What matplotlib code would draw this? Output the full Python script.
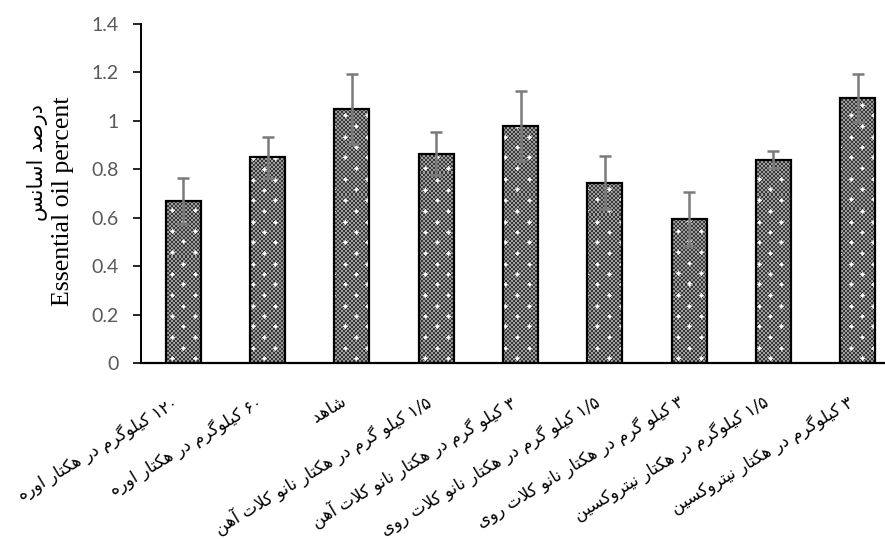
import numpy as np
import matplotlib
matplotlib.use("Agg")
import matplotlib.pyplot as plt
from matplotlib.transforms import ScaledTranslation

# ---------------- data ----------------
categories = [
    "۱۲۰ کیلوگرم در هکتار اوره",
    "۶۰ کیلوگرم در هکتار اوره",
    "شاهد",
    "۱/۵ کیلو گرم در هکتار نانو کلات آهن",
    "۳ کیلو گرم در هکتار نانو کلات آهن",
    "۱/۵ کیلو گرم در هکتار نانو کلات روی",
    "۳ کیلو گرم در هکتار نانو کلات روی",
    "۱/۵ کیلوگرم در هکتار نیتروکسین",
    "۳ کیلوگرم در هکتار نیتروکسین",
]
values = [0.67, 0.85, 1.05, 0.865, 0.98, 0.745, 0.595, 0.84, 1.095]
errors = [0.095, 0.085, 0.145, 0.09, 0.145, 0.11, 0.11, 0.035, 0.10]
yticks = [0, 0.2, 0.4, 0.6, 0.8, 1.0, 1.2, 1.4]
ytick_labels = ["0", "0.2", "0.4", "0.6", "0.8", "1", "1.2", "1.4"]
ylabel_en = "Essential oil percent"
ylabel_fa = "درصد اسانس"

# ---------------- simple Persian shaping ----------------
FORMS = {  # isolated, final, initial, medial
    'ا': ('\uFE8D', '\uFE8E', None, None),
    'آ': ('\uFE81', '\uFE82', None, None),
    'ت': ('\uFE95', '\uFE96', '\uFE97', '\uFE98'),
    'د': ('\uFEA9', '\uFEAA', None, None),
    'ر': ('\uFEAD', '\uFEAE', None, None),
    'س': ('\uFEB1', '\uFEB2', '\uFEB3', '\uFEB4'),
    'ش': ('\uFEB5', '\uFEB6', '\uFEB7', '\uFEB8'),
    'ص': ('\uFEB9', '\uFEBA', '\uFEBB', '\uFEBC'),
    'ل': ('\uFEDD', '\uFEDE', '\uFEDF', '\uFEE0'),
    'م': ('\uFEE1', '\uFEE2', '\uFEE3', '\uFEE4'),
    'ن': ('\uFEE5', '\uFEE6', '\uFEE7', '\uFEE8'),
    'ه': ('\uFEE9', '\uFEEA', '\uFEEB', '\uFEEC'),
    'و': ('\uFEED', '\uFEEE', None, None),
    'ک': ('\uFB8E', '\uFB8F', '\uFB90', '\uFB91'),
    'گ': ('\uFB92', '\uFB93', '\uFB94', '\uFB95'),
    'ی': ('\uFBFC', '\uFBFD', '\uFBFE', '\uFBFF'),
}
LAMALEF = {'ا': ('\uFEFB', '\uFEFC'), 'آ': ('\uFEF5', '\uFEF6')}


def dual(c):
    return c in FORMS and FORMS[c][2] is not None


def shape_line(s):
    out = []
    i = 0
    n = len(s)
    while i < n:
        c = s[i]
        if c not in FORMS:
            out.append(c)
            i += 1
            continue
        prev = s[i - 1] if i > 0 else ''
        jp = dual(prev)
        if c == 'ل' and i + 1 < n and s[i + 1] in LAMALEF:
            out.append(LAMALEF[s[i + 1]][1 if jp else 0])
            i += 2
            continue
        nxt = s[i + 1] if i + 1 < n else ''
        jn = dual(c) and nxt in FORMS
        f = FORMS[c]
        if jp and jn:
            out.append(f[3])
        elif jp:
            out.append(f[1])
        elif jn:
            out.append(f[2])
        else:
            out.append(f[0])
        i += 1
    shaped = ''.join(out)
    # visual reorder: reverse, keeping digit runs left-to-right
    tokens = []
    cur = ''
    isnum = None
    for ch in shaped:
        d = ch.isdigit() or ch == '/'
        if isnum is None or d == isnum:
            cur += ch
        else:
            tokens.append((cur, isnum))
            cur = ch
        isnum = d
    if cur:
        tokens.append((cur, isnum))
    vis = ''
    for tok, num in reversed(tokens):
        vis += tok if num else tok[::-1]
    return vis


def shape(s):
    return '\n'.join(shape_line(l) for l in s.split('\n'))


# ---------------- figure ----------------
W, H = 885, 539
fig = plt.figure(figsize=(W / 100, H / 100), dpi=100)
ax_left, ax_right, ax_top, ax_bottom = 141, 900, 24, 363
ax = fig.add_axes([ax_left / W, 1 - ax_bottom / H,
                   (ax_right - ax_left) / W, (ax_bottom - ax_top) / H])

x = np.arange(len(values))
bars = ax.bar(x, values, width=0.415, facecolor='none', edgecolor='black',
              linewidth=1.6, zorder=3)

# texture (dark checker with white dots)
tw, th = ax_right - ax_left, ax_bottom - ax_top
yy, xx = np.mgrid[0:th, 0:tw]
chk = ((xx // 2 + yy // 2) % 2).astype(float)
tex = np.where(chk > 0, 0.62, 0.22)
dy, dx = 10.5, 23.0
for r in range(int(th / dy) + 2):
    cy = int(round(th - 5 - r * dy))
    off = 0 if r % 2 == 0 else dx / 2
    for k in range(int(tw / dx) + 2):
        cx = int(round(8 + off + k * dx))
        for ddx, ddy, v in [(0, 0, 1.0), (1, 0, 1.0), (-1, 0, 1.0), (0, 1, 1.0), (0, -1, 1.0),
                            (1, 1, 0.85), (-1, -1, 0.85), (1, -1, 0.85), (-1, 1, 0.85),
                            (2, 0, 0.85), (-2, 0, 0.85), (0, 2, 0.85), (0, -2, 0.85)]:
            px, py = cx + ddx, cy + ddy
            if 0 <= px < tw and 0 <= py < th:
                tex[py, px] = max(tex[py, px], v)
for b in bars:
    im = ax.imshow(tex, cmap='gray', vmin=0, vmax=1, extent=(-0.5, 8.5, 0, 1.4),
                   origin='upper', aspect='auto', interpolation='nearest', zorder=2)
    im.set_clip_path(b)

ax.errorbar(x, values, yerr=errors, fmt='none', ecolor='#7a7a7a', elinewidth=1.8,
            capsize=4.5, capthick=1.8, zorder=4)

ax.set_xlim(-0.5, 8.5)
ax.set_ylim(0, 1.4)
ax.set_yticks(yticks)
ax.set_yticklabels(ytick_labels, fontfamily='Lato', fontsize=14, color='#595959')
ax.tick_params(axis='y', direction='out', length=6, width=1.2, pad=10)
ax.tick_params(axis='x', length=0, pad=21)
ax.set_xticks(x)
ax.set_xticklabels([shape(c) for c in categories], rotation=31, ha='right', va='top',
                   rotation_mode='anchor',
                   fontfamily='DejaVu Sans', fontsize=12)
shift = ScaledTranslation(-12 / 100, 0, fig.dpi_scale_trans)
for lab in ax.get_xticklabels():
    lab.set_transform(lab.get_transform() + shift)
for s in ['top', 'right']:
    ax.spines[s].set_visible(False)
ax.spines['left'].set_linewidth(1.4)
ax.spines['bottom'].set_linewidth(1.6)

fig.text(63 / W, 1 - 201 / H, ylabel_en, rotation=90, ha='center', va='center',
         fontfamily='Liberation Serif', fontsize=18.6)
fig.text(37 / W, 1 - 163 / H, shape(ylabel_fa), rotation=90, ha='center', va='center',
         fontfamily='DejaVu Sans', fontsize=15)

fig.savefig('out.png', dpi=100)
